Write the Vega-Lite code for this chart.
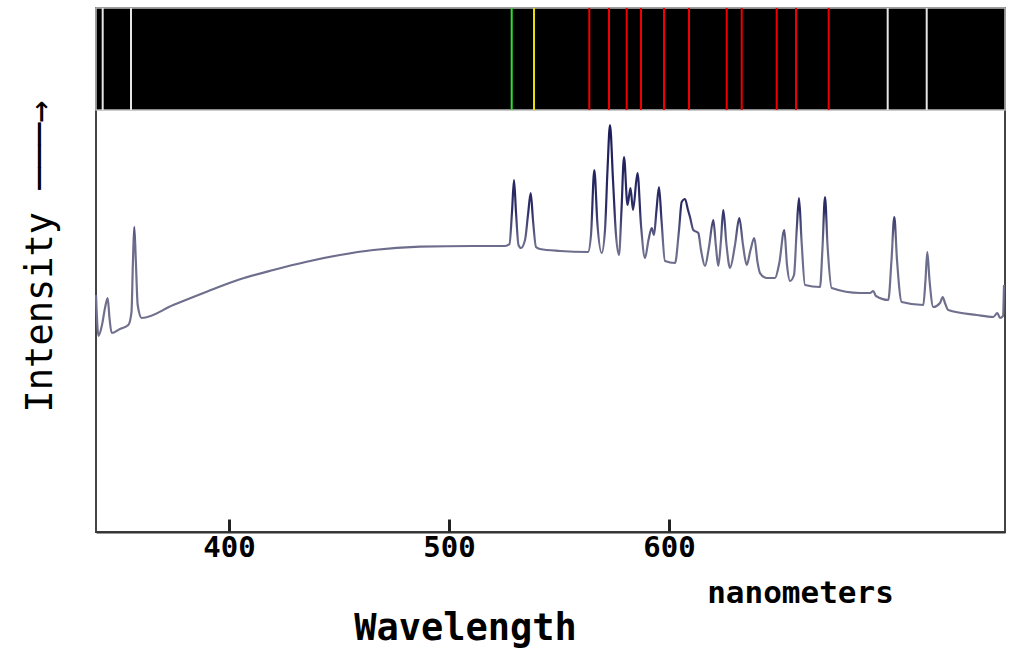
{
  "$schema": "https://vega.github.io/schema/vega-lite/v6.json",
  "width": 909,
  "height": 524,
  "autosize": {"type": "none"},
  "padding": {"left": 96, "top": 8, "right": 4, "bottom": 117},
  "background": "white",
  "config": {
    "view": {"stroke": "#444", "strokeWidth": 2},
    "font": "DejaVu Sans Mono"
  },
  "title": {
    "text": "Wavelength",
    "orient": "bottom",
    "anchor": "middle",
    "frame": "group",
    "dx": -85,
    "offset": 3,
    "font": "DejaVu Sans Mono",
    "fontSize": 37,
    "fontWeight": "bold",
    "color": "black"
  },
  "datasets": {
    "spectrum": [
      {"wl": 339.55, "intensity": 56.16},
      {"wl": 340.68, "intensity": 46.45},
      {"wl": 342.27, "intensity": 49.05},
      {"wl": 343.64, "intensity": 53.08},
      {"wl": 344.86, "intensity": 55.45},
      {"wl": 345.68, "intensity": 50.71},
      {"wl": 346.68, "intensity": 47.16},
      {"wl": 350.45, "intensity": 48.10},
      {"wl": 354.23, "intensity": 49.05},
      {"wl": 355.68, "intensity": 52.13},
      {"wl": 356.36, "intensity": 64.45},
      {"wl": 356.95, "intensity": 72.27},
      {"wl": 357.64, "intensity": 64.45},
      {"wl": 358.50, "intensity": 53.79},
      {"wl": 360.32, "intensity": 50.71},
      {"wl": 374.68, "intensity": 53.79},
      {"wl": 389.86, "intensity": 56.94},
      {"wl": 405.00, "intensity": 59.88},
      {"wl": 420.14, "intensity": 62.09},
      {"wl": 435.32, "intensity": 64.05},
      {"wl": 450.45, "intensity": 65.64},
      {"wl": 465.59, "intensity": 66.82},
      {"wl": 486.82, "intensity": 67.61},
      {"wl": 510.91, "intensity": 67.77},
      {"wl": 525.45, "intensity": 67.77},
      {"wl": 527.50, "intensity": 68.25},
      {"wl": 528.64, "intensity": 75.83},
      {"wl": 529.55, "intensity": 83.41},
      {"wl": 530.45, "intensity": 75.83},
      {"wl": 531.59, "intensity": 68.01},
      {"wl": 532.73, "intensity": 67.30},
      {"wl": 534.55, "intensity": 69.19},
      {"wl": 535.91, "intensity": 75.12},
      {"wl": 537.14, "intensity": 80.33},
      {"wl": 538.18, "intensity": 73.93},
      {"wl": 539.55, "intensity": 67.54},
      {"wl": 541.36, "intensity": 67.06},
      {"wl": 550.45, "intensity": 66.59},
      {"wl": 563.18, "intensity": 66.35},
      {"wl": 564.55, "intensity": 70.38},
      {"wl": 566.05, "intensity": 85.78},
      {"wl": 567.50, "intensity": 72.75},
      {"wl": 569.41, "intensity": 66.11},
      {"wl": 570.91, "intensity": 71.56},
      {"wl": 572.05, "intensity": 85.78},
      {"wl": 573.18, "intensity": 96.45},
      {"wl": 574.55, "intensity": 83.41},
      {"wl": 575.91, "intensity": 70.38},
      {"wl": 577.27, "intensity": 65.64},
      {"wl": 578.41, "intensity": 76.30},
      {"wl": 579.55, "intensity": 88.86},
      {"wl": 581.14, "intensity": 77.49},
      {"wl": 582.50, "intensity": 81.52},
      {"wl": 583.64, "intensity": 76.30},
      {"wl": 585.68, "intensity": 85.07},
      {"wl": 587.27, "intensity": 72.75},
      {"wl": 589.09, "intensity": 64.93},
      {"wl": 590.68, "intensity": 69.19},
      {"wl": 592.14, "intensity": 72.04},
      {"wl": 593.18, "intensity": 70.38},
      {"wl": 594.32, "intensity": 76.30},
      {"wl": 595.45, "intensity": 81.75},
      {"wl": 596.59, "intensity": 73.93},
      {"wl": 598.18, "intensity": 64.22},
      {"wl": 602.73, "intensity": 63.74},
      {"wl": 604.55, "intensity": 71.56},
      {"wl": 605.77, "intensity": 78.20},
      {"wl": 607.27, "intensity": 78.91},
      {"wl": 608.64, "intensity": 76.30},
      {"wl": 609.55, "intensity": 74.64},
      {"wl": 611.05, "intensity": 71.56},
      {"wl": 613.32, "intensity": 70.85},
      {"wl": 614.55, "intensity": 66.82},
      {"wl": 616.36, "intensity": 63.03},
      {"wl": 618.18, "intensity": 67.54},
      {"wl": 620.14, "intensity": 73.93},
      {"wl": 621.36, "intensity": 67.54},
      {"wl": 622.41, "intensity": 63.03},
      {"wl": 623.64, "intensity": 69.19},
      {"wl": 624.68, "intensity": 76.30},
      {"wl": 626.14, "intensity": 68.01},
      {"wl": 627.73, "intensity": 62.56},
      {"wl": 630.00, "intensity": 68.01},
      {"wl": 631.95, "intensity": 74.41},
      {"wl": 633.64, "intensity": 68.01},
      {"wl": 635.32, "intensity": 63.27},
      {"wl": 637.05, "intensity": 66.82},
      {"wl": 638.77, "intensity": 69.67},
      {"wl": 640.23, "intensity": 63.98},
      {"wl": 641.36, "intensity": 61.37},
      {"wl": 644.41, "intensity": 60.19},
      {"wl": 648.18, "intensity": 60.19},
      {"wl": 650.14, "intensity": 63.74},
      {"wl": 652.41, "intensity": 71.56},
      {"wl": 653.64, "intensity": 63.27},
      {"wl": 655.00, "intensity": 59.48},
      {"wl": 656.82, "intensity": 60.90},
      {"wl": 658.05, "intensity": 71.56},
      {"wl": 659.09, "intensity": 79.15},
      {"wl": 660.23, "intensity": 69.19},
      {"wl": 661.82, "intensity": 58.53},
      {"wl": 668.64, "intensity": 58.06},
      {"wl": 669.77, "intensity": 67.30},
      {"wl": 670.91, "intensity": 79.38},
      {"wl": 672.05, "intensity": 68.01},
      {"wl": 673.95, "intensity": 57.82},
      {"wl": 686.82, "intensity": 56.64},
      {"wl": 691.36, "intensity": 56.64},
      {"wl": 692.86, "intensity": 57.11},
      {"wl": 694.09, "intensity": 55.92},
      {"wl": 699.68, "intensity": 54.98},
      {"wl": 701.14, "intensity": 64.45},
      {"wl": 702.41, "intensity": 74.64},
      {"wl": 703.64, "intensity": 64.45},
      {"wl": 705.77, "intensity": 54.50},
      {"wl": 715.59, "intensity": 53.79},
      {"wl": 716.59, "intensity": 59.72},
      {"wl": 717.41, "intensity": 66.35},
      {"wl": 718.41, "intensity": 59.72},
      {"wl": 720.14, "intensity": 53.32},
      {"wl": 723.18, "intensity": 54.27},
      {"wl": 724.41, "intensity": 55.69},
      {"wl": 725.45, "intensity": 54.27},
      {"wl": 726.95, "intensity": 52.61},
      {"wl": 739.86, "intensity": 51.42},
      {"wl": 747.41, "intensity": 50.95},
      {"wl": 749.23, "intensity": 51.90},
      {"wl": 750.45, "intensity": 50.71},
      {"wl": 751.82, "intensity": 51.18},
      {"wl": 752.27, "intensity": 58.53}
    ],
    "lines": [
      {"wl": 342.59, "color": "#e6e6e6"},
      {"wl": 355.45, "color": "#e6e6e6"},
      {"wl": 528.50, "color": "#2ee02e"},
      {"wl": 538.64, "color": "#e8e000"},
      {"wl": 563.77, "color": "#ee0000"},
      {"wl": 572.73, "color": "#ee0000"},
      {"wl": 580.77, "color": "#ee0000"},
      {"wl": 587.27, "color": "#ee0000"},
      {"wl": 597.73, "color": "#ee0000"},
      {"wl": 609.09, "color": "#ee0000"},
      {"wl": 626.23, "color": "#ee0000"},
      {"wl": 633.05, "color": "#ee0000"},
      {"wl": 648.95, "color": "#ee0000"},
      {"wl": 657.73, "color": "#ee0000"},
      {"wl": 672.59, "color": "#ee0000"},
      {"wl": 699.41, "color": "#e6e6e6"},
      {"wl": 717.14, "color": "#e6e6e6"}
    ]
  },
  "layer": [
    {
      "data": {"values": [{"band": "emission"}]},
      "mark": {"type": "rect", "color": "black", "stroke": "#bbbbbb", "strokeWidth": 1.5},
      "encoding": {
        "y": {"datum": 100, "type": "quantitative", "title": "Intensity ───→"},
        "y2": {"datum": 124.17}
      }
    },
    {
      "data": {"name": "lines"},
      "mark": {"type": "rule", "strokeWidth": 2},
      "encoding": {
        "x": {"field": "wl", "type": "quantitative", "title": "nanometers"},
        "y": {"datum": 100, "type": "quantitative", "title": "Intensity ───→"},
        "y2": {"datum": 124.17},
        "color": {"field": "color", "type": "nominal", "scale": null}
      }
    },
    {
      "data": {"name": "spectrum"},
      "mark": {
        "type": "line",
        "interpolate": "monotone",
        "strokeWidth": 2.2,
        "color": {
          "gradient": "linear",
          "x1": 0, "y1": 0, "x2": 0, "y2": 1,
          "stops": [
            {"offset": 0, "color": "#1c1c58"},
            {"offset": 0.4, "color": "#2c2c66"},
            {"offset": 0.56, "color": "#6c6c8c"},
            {"offset": 1, "color": "#70708e"}
          ]
        }
      },
      "encoding": {
        "x": {
          "field": "wl",
          "type": "quantitative",
          "title": "nanometers",
          "scale": {"domain": [339.55, 752.73], "nice": false, "zero": false},
          "axis": {
            "values": [400, 500, 600],
            "format": "d",
            "grid": false,
            "zindex": 2,
            "domainColor": "#333333",
            "domainWidth": 2,
            "ticks": true,
            "tickColor": "#222222",
            "tickWidth": 3,
            "tickSize": -13,
            "labelFont": "DejaVu Sans Mono",
            "labelFontSize": 29,
            "labelFontWeight": "bold",
            "labelColor": "black",
            "labelPadding": 14,
            "titleFont": "DejaVu Sans Mono",
            "titleFontSize": 31,
            "titleFontWeight": "bold",
            "titleColor": "black",
            "titleAlign": "center",
            "titleBaseline": "middle",
            "titleX": 704,
            "titleY": 61
          }
        },
        "y": {
          "field": "intensity",
          "type": "quantitative",
          "title": "Intensity ───→",
          "scale": {"domain": [0, 124.17], "nice": false, "zero": false},
          "axis": {
            "domain": false,
            "ticks": false,
            "labels": false,
            "grid": false,
            "titleFont": "DejaVu Sans Mono",
            "titleFontSize": 37,
            "titleFontWeight": "normal",
            "titleColor": "black",
            "titleAngle": 270,
            "titleAlign": "center",
            "titleBaseline": "middle",
            "titleX": -56,
            "titleY": 248
          }
        }
      }
    }
  ]
}
